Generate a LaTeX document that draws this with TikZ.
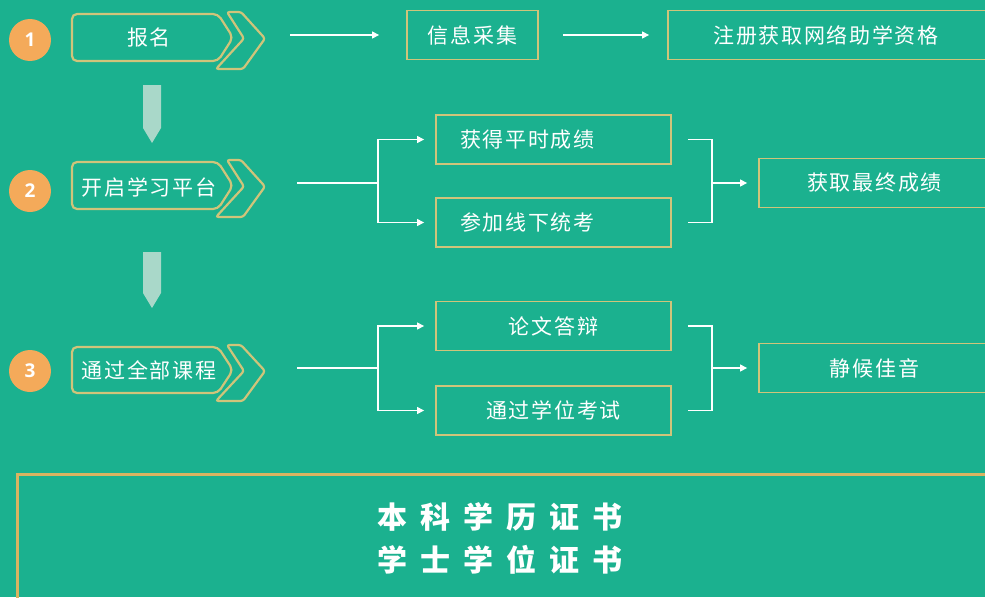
\documentclass[tikz,border=0pt]{standalone}
\usepackage{fontspec}
\newfontfamily\cjk[LetterSpace=8]{Noto Sans CJK SC}
\newfontfamily\cjkwide[LetterSpace=43]{Noto Sans CJK SC}
\newfontfamily\numfont{Open Sans}
\usetikzlibrary{arrows.meta}
\definecolor{bg}{HTML}{1BB18F}
\definecolor{gold}{HTML}{D0C47A}
\definecolor{gold2}{HTML}{D9B461}
\definecolor{orng}{HTML}{F4AA5A}
\definecolor{downc}{HTML}{A9D8C9}
\newcommand\stagepill[2]{%
  \draw[pillbox] (72,#1) -- (218,#1) -- (233,{(#1+#2)/2}) -- (218,#2) -- (72,#2) -- cycle;
  \draw[pillbox, rounded corners=2.5pt] (227,{#1-2}) -- (241,{#1-2}) -- (265,{(#1+#2)/2+1}) -- (243,{#2+8}) -- (216,{#2+8}) -- (244,{(#1+#2)/2+1}) -- cycle;
}
\begin{document}
\begin{tikzpicture}[x=1pt,y=-1pt,
  lbl/.style={font=\cjk\fontsize{21}{24}\selectfont, text=white},
  box/.style={draw=gold, line width=1.8pt, minimum height=49pt, inner sep=0pt, lbl},
  pillbox/.style={draw=gold, line width=2.2pt, rounded corners=5pt},
  num/.style={circle, fill=orng, minimum size=42pt, inner sep=0pt, text=white, font=\numfont\bfseries\fontsize{19}{19}\selectfont},
  conn/.style={draw=white, line width=1.1pt},
  arr/.style={conn, -{Triangle[length=7pt,width=7pt]}},
  downarr/.style={fill=downc}]
\fill[bg] (0,0) rectangle (985,597);
\clip (0,0) rectangle (985,597);

% numbered circles
\node[num] (c1) at (30,40) {1};
\node[num] (c2) at (30,191) {2};
\node[num] (c3) at (30,371) {3};

% stage pills
\stagepill{14}{61}
\stagepill{162}{209}
\stagepill{347}{393}
\node[lbl] (s1) at (149,38) {报名};
\node[lbl] (s2) at (149,187) {开启学习平台};
\node[lbl] (s3) at (149,370) {通过全部课程};

% down arrows
\fill[downarr] (143,85) -- (161,85) -- (161,128) -- (152,143) -- (143,128) -- cycle;
\fill[downarr] (143,252) -- (161,252) -- (161,293) -- (152,308) -- (143,293) -- cycle;

% row 1
\node[box, minimum width=131pt] (info) at (472.5,35) {信息采集};
\node[box, minimum width=322pt] (reg) at (829,35) {\hspace*{-6pt}注册获取网络助学资格};
\coordinate (a1) at (290,35);
\draw[arr, shorten >=27pt] (a1) -- (info.west);
\draw[arr, shorten >=18pt] ([xshift=24pt]info.east) -- (reg.west);

% row 2
\node[box, minimum width=235pt, text width=187pt, inner xsep=24pt, align=left] (g1) at (553.5,139.5) {获得平时成绩};
\node[box, minimum width=235pt, text width=187pt, inner xsep=24pt, align=left] (g2) at (553.5,222.5) {参加线下统考};
\node[box, minimum width=231pt] (fin) at (874.5,183) {获取最终成绩};
\coordinate (b2) at (297,183);
\coordinate (j2) at (378,183);
\draw[conn] (b2) -- (j2);
\draw[arr, shorten >=11pt] (j2) |- (g1.west);
\draw[arr, shorten >=11pt] (j2) |- (g2.west);
\coordinate (k2) at (712,183);
\draw[conn] ([xshift=16pt]g1.east) -| (k2) |- ([xshift=16pt]g2.east);
\draw[arr, shorten >=11pt] (k2) -- (fin.west);

% row 3
\node[box, minimum width=235pt] (t1) at (553.5,326) {论文答辩};
\node[box, minimum width=235pt] (t2) at (553.5,410.5) {通过学位考试};
\node[box, minimum width=231pt] (wait) at (874.5,368) {静候佳音};
\coordinate (b3) at (297,368);
\coordinate (j3) at (378,368);
\draw[conn] (b3) -- (j3);
\draw[arr, shorten >=11pt] (j3) |- (t1.west);
\draw[arr, shorten >=11pt] (j3) |- (t2.west);
\coordinate (k3) at (712,368);
\draw[conn] ([xshift=16pt]t1.east) -| (k3) |- ([xshift=16pt]t2.east);
\draw[arr, shorten >=11pt] (k3) -- (wait.west);

% certificate box
\node[draw=gold2, line width=3pt, minimum width=980pt, minimum height=140pt, anchor=north west, inner sep=0pt] (cert) at (16,473) {};
\node[text=white, align=center, font=\cjkwide\bfseries\fontsize{30}{43}\selectfont] (certtext) at (500,538) {本科学历证书\\学士学位证书};
\end{tikzpicture}
\end{document}
